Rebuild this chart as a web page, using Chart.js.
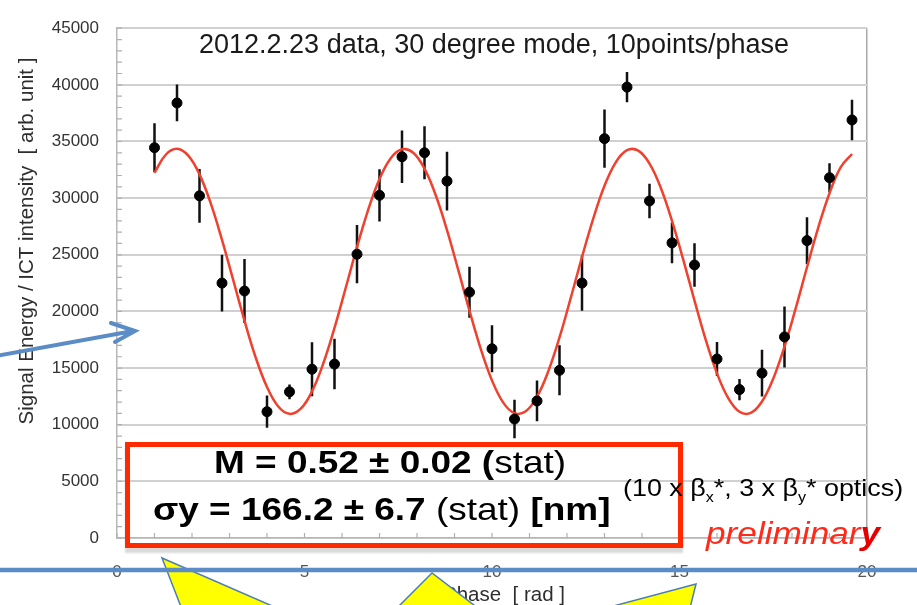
<!DOCTYPE html>
<html>
<head>
<meta charset="utf-8">
<script src="https://cdn.jsdelivr.net/npm/chart.js@4.4.1/dist/chart.umd.min.js"></script>
<style>
  html, body { margin: 0; padding: 0; background: #fff; }
  #wrap { position: relative; width: 917px; height: 605px; overflow: hidden; }
  #chart { position: absolute; left: 0; top: 0; }
  .note { position: absolute; white-space: nowrap; line-height: 1; transform-origin: 0 0;
          font-family: "Liberation Sans", Arial, sans-serif; color: #000; }
  .box { position: absolute; left: 125px; top: 442px; width: 558px; height: 106px;
         border: 5px solid #ff2a00; box-sizing: border-box;
         box-shadow: 0 5px 2px rgba(0,0,0,0.15); }
  .big { font-size: 32px; font-weight: bold; transform: scaleX(1.155); }
  .big .n { font-weight: normal; }
  .optics { font-size: 24px; transform: scaleX(1.12); }
  .optics .s { font-size: 0.6em; position: relative; top: 6px; }
  .prelim { font-size: 32px; font-style: italic; color: #ff2a1a; transform: scaleX(1.1); }
  .prelim b { color: #e60000; }
</style>
</head>
<body>
<div id="wrap">
  <canvas id="chart" width="917" height="605"></canvas>
  <div class="box"></div>
  <div class="note big" style="left:214px; top:446px;">M = 0.52 ± 0.02 (<span class="n">stat)</span></div>
  <div class="note big" style="left:153px; top:493px;">σy = 166.2 ± 6.7 <span class="n">(stat)</span> [nm]</div>
  <div class="note optics" style="left:623px; top:476px;">(10 x β<span class="s">x</span>*, 3 x β<span class="s">y</span>* optics)</div>
  <div class="note prelim" style="left:706px; top:517px;">preliminar<b>y</b></div>
</div>
<script>
// measured points (phase in rad, signal / ICT, stat error)
const phase = [1.0, 1.6, 2.2, 2.8, 3.4, 4.0, 4.6, 5.2, 5.8, 6.4, 7.0, 7.6, 8.2, 8.8, 9.4, 10.0,
               10.6, 11.2, 11.8, 12.4, 13.0, 13.6, 14.2, 14.8, 15.4, 16.0, 16.6, 17.2, 17.8, 18.4, 19.0, 19.6];
const signal = [34450, 38400, 30200, 22500, 21800, 11150, 12900, 14900, 15350, 25050, 30250, 33650, 34000, 31500, 21700, 16700,
                10500, 12100, 14800, 22500, 35250, 39800, 29750, 26050, 24100, 15800, 13100, 14550, 17750, 26250, 31800, 36900];
const errors = [2170, 1620, 2370, 2500, 2830, 1420, 650, 2380, 2230, 2570, 2310, 2310, 2340, 2600, 2250, 2070,
                1700, 1800, 2210, 2440, 2570, 1330, 1530, 1800, 1920, 1490, 940, 2070, 2690, 2070, 1270, 1780];

// fitted curve
const fitPhase = [1.0, 1.3, 1.6, 1.9, 2.2, 2.5, 2.8, 3.1, 3.4, 3.7, 4.0, 4.3, 4.6, 4.9, 5.2, 5.5, 5.8, 6.1, 6.4, 6.7,
                  7.0, 7.3, 7.6, 7.9, 8.2, 8.5, 8.8, 9.1, 9.4, 9.7, 10.0, 10.3, 10.6, 10.9, 11.2, 11.5, 11.8, 12.1, 12.4, 12.7,
                  13.0, 13.3, 13.6, 13.9, 14.2, 14.5, 14.8, 15.1, 15.4, 15.7, 16.0, 16.3, 16.6, 16.9, 17.2, 17.5, 17.8, 18.1,
                  18.4, 18.7, 19.0, 19.3, 19.6];
const fitSignal = [32240, 33830, 34350, 33750, 32100, 29540, 26320, 22760, 19180, 15920, 13330, 11610, 10960, 11410, 12940,
                   15400, 18550, 22090, 25680, 28990, 31690, 33530, 34320, 34010, 32600, 30250, 27180, 23660, 20060, 16700,
                   13910, 11950, 11020, 11190, 12470, 14710, 17700, 21190, 24800, 28200, 31090, 33160, 34230, 34190, 33050,
                   30920, 28000, 24570, 20950, 17490, 14530, 12350, 11150, 11040, 12050, 14070, 16900, 20290, 23900, 27400,
                   30430, 32730, 33900];

const titleText = '2012.2.23 data, 30 degree mode, 10points/phase';
const xTitle = 'Phase  [ rad ]';
const yTitle = 'Signal Energy / ICT intensity  [ arb. unit ]';

const FONT = '"Liberation Sans", Arial, sans-serif';
Chart.defaults.font.family = FONT;

const extras = {
    id: 'extras',
    beforeDatasetsDraw(chart) {
        const ctx = chart.ctx;
        const xs = chart.scales.x, ys = chart.scales.y;
        const area = chart.chartArea;
        ctx.save();
        // small inner ticks
        ctx.strokeStyle = '#b0b0b0';
        ctx.lineWidth = 1.2;
        ctx.beginPath();
        ys.ticks.forEach(t => {
            const y = ys.getPixelForValue(t.value);
            ctx.moveTo(area.left, y);
            ctx.lineTo(area.left + 5, y);
        });
        xs.ticks.forEach(t => {
            const x = xs.getPixelForValue(t.value);
            ctx.moveTo(x, area.bottom);
            ctx.lineTo(x, area.bottom - 5);
        });
        ctx.stroke();
        // error bars
        ctx.strokeStyle = '#111';
        ctx.lineWidth = 2.5;
        ctx.beginPath();
        for (let i = 0; i < phase.length; i++) {
            const x = xs.getPixelForValue(phase[i]);
            ctx.moveTo(x, ys.getPixelForValue(signal[i] + errors[i]));
            ctx.lineTo(x, ys.getPixelForValue(signal[i] - errors[i]));
        }
        ctx.stroke();
        ctx.restore();
    },
    afterDraw(chart) {
        const ctx = chart.ctx;
        ctx.save();
        // texts
        ctx.fillStyle = '#1a1a1a';
        ctx.font = '27px ' + FONT;
        ctx.textAlign = 'center';
        ctx.textBaseline = 'alphabetic';
        ctx.fillText(titleText, 494, 53);

        ctx.fillStyle = '#2e2e2e';
        ctx.font = '20.5px ' + FONT;
        ctx.fillText(xTitle, 504, 601);

        ctx.save();
        ctx.translate(33, 241);
        ctx.rotate(-Math.PI / 2);
        ctx.fillText(yTitle, 0, 0);
        ctx.restore();

        // yellow callout pointers
        const tris = [
            [[162, 558], [183, 612], [286, 612]],
            [[432, 573], [393, 612], [483, 612]],
            [[696, 584], [591, 612], [689, 612]]
        ];
        ctx.fillStyle = '#ffff00';
        ctx.strokeStyle = '#4a7ebb';
        ctx.lineWidth = 1.5;
        tris.forEach(t => {
            ctx.beginPath();
            ctx.moveTo(t[0][0], t[0][1]);
            ctx.lineTo(t[1][0], t[1][1]);
            ctx.lineTo(t[2][0], t[2][1]);
            ctx.closePath();
            ctx.fill();
            ctx.stroke();
        });

        // blue rule and arrow
        ctx.strokeStyle = '#5b8cc6';
        ctx.lineWidth = 4.5;
        ctx.beginPath();
        ctx.moveTo(0, 570);
        ctx.lineTo(917, 570);
        ctx.stroke();

        ctx.lineWidth = 4;
        ctx.lineCap = 'round';
        ctx.lineJoin = 'miter';
        ctx.beginPath();
        ctx.moveTo(-4, 356);
        ctx.lineTo(133, 331);
        ctx.moveTo(111, 323);
        ctx.lineTo(135, 331);
        ctx.lineTo(115, 342);
        ctx.stroke();
        ctx.restore();
    }
};

new Chart(document.getElementById('chart'), {
    type: 'scatter',
    data: {
        datasets: [
            {
                label: 'data',
                data: phase.map((p, i) => ({ x: p, y: signal[i] })),
                pointRadius: 5,
                pointBorderWidth: 1,
                pointBackgroundColor: '#000',
                pointBorderColor: '#000',
                showLine: false,
                order: 0
            },
            {
                label: 'fit',
                data: fitPhase.map((p, i) => ({ x: p, y: fitSignal[i] })),
                showLine: true,
                borderColor: '#f0402e',
                borderWidth: 2.5,
                pointRadius: 0,
                tension: 0.4,
                order: 1
            }
        ]
    },
    options: {
        responsive: false,
        animation: false,
        layout: { padding: { left: 0, right: 50, top: 19, bottom: 0 } },
        plugins: {
            legend: { display: false },
            tooltip: { enabled: false }
        },
        scales: {
            x: {
                type: 'linear',
                min: 0,
                max: 20,
                afterFit: s => { s.height = 67; },
                ticks: {
                    stepSize: 1,
                    autoSkip: false,
                    maxRotation: 0,
                    padding: 24,
                    color: '#555',
                    font: { size: 17 },
                    callback: v => (v % 5 === 0 ? v : '')
                },
                grid: {
                    drawTicks: false,
                    color: c => (c.tick && c.tick.value === 20 ? '#a8a8a8' : 'rgba(0,0,0,0)'),
                    lineWidth: 1.5
                },
                border: { color: '#b8b8b8', width: 1.5 }
            },
            y: {
                min: 0,
                max: 45000,
                afterFit: s => { s.width = 117; },
                ticks: {
                    stepSize: 1000,
                    autoSkip: false,
                    padding: 18,
                    color: '#333',
                    font: { size: 17 },
                    callback: v => (v % 5000 === 0 ? v : '')
                },
                grid: {
                    drawTicks: false,
                    color: c => (c.tick && c.tick.value % 5000 === 0 ? '#d0d0d0' : 'rgba(0,0,0,0)'),
                    lineWidth: 2
                },
                border: { color: '#b8b8b8', width: 1.5 }
            }
        }
    },
    plugins: [extras]
});
</script>
</body>
</html>
